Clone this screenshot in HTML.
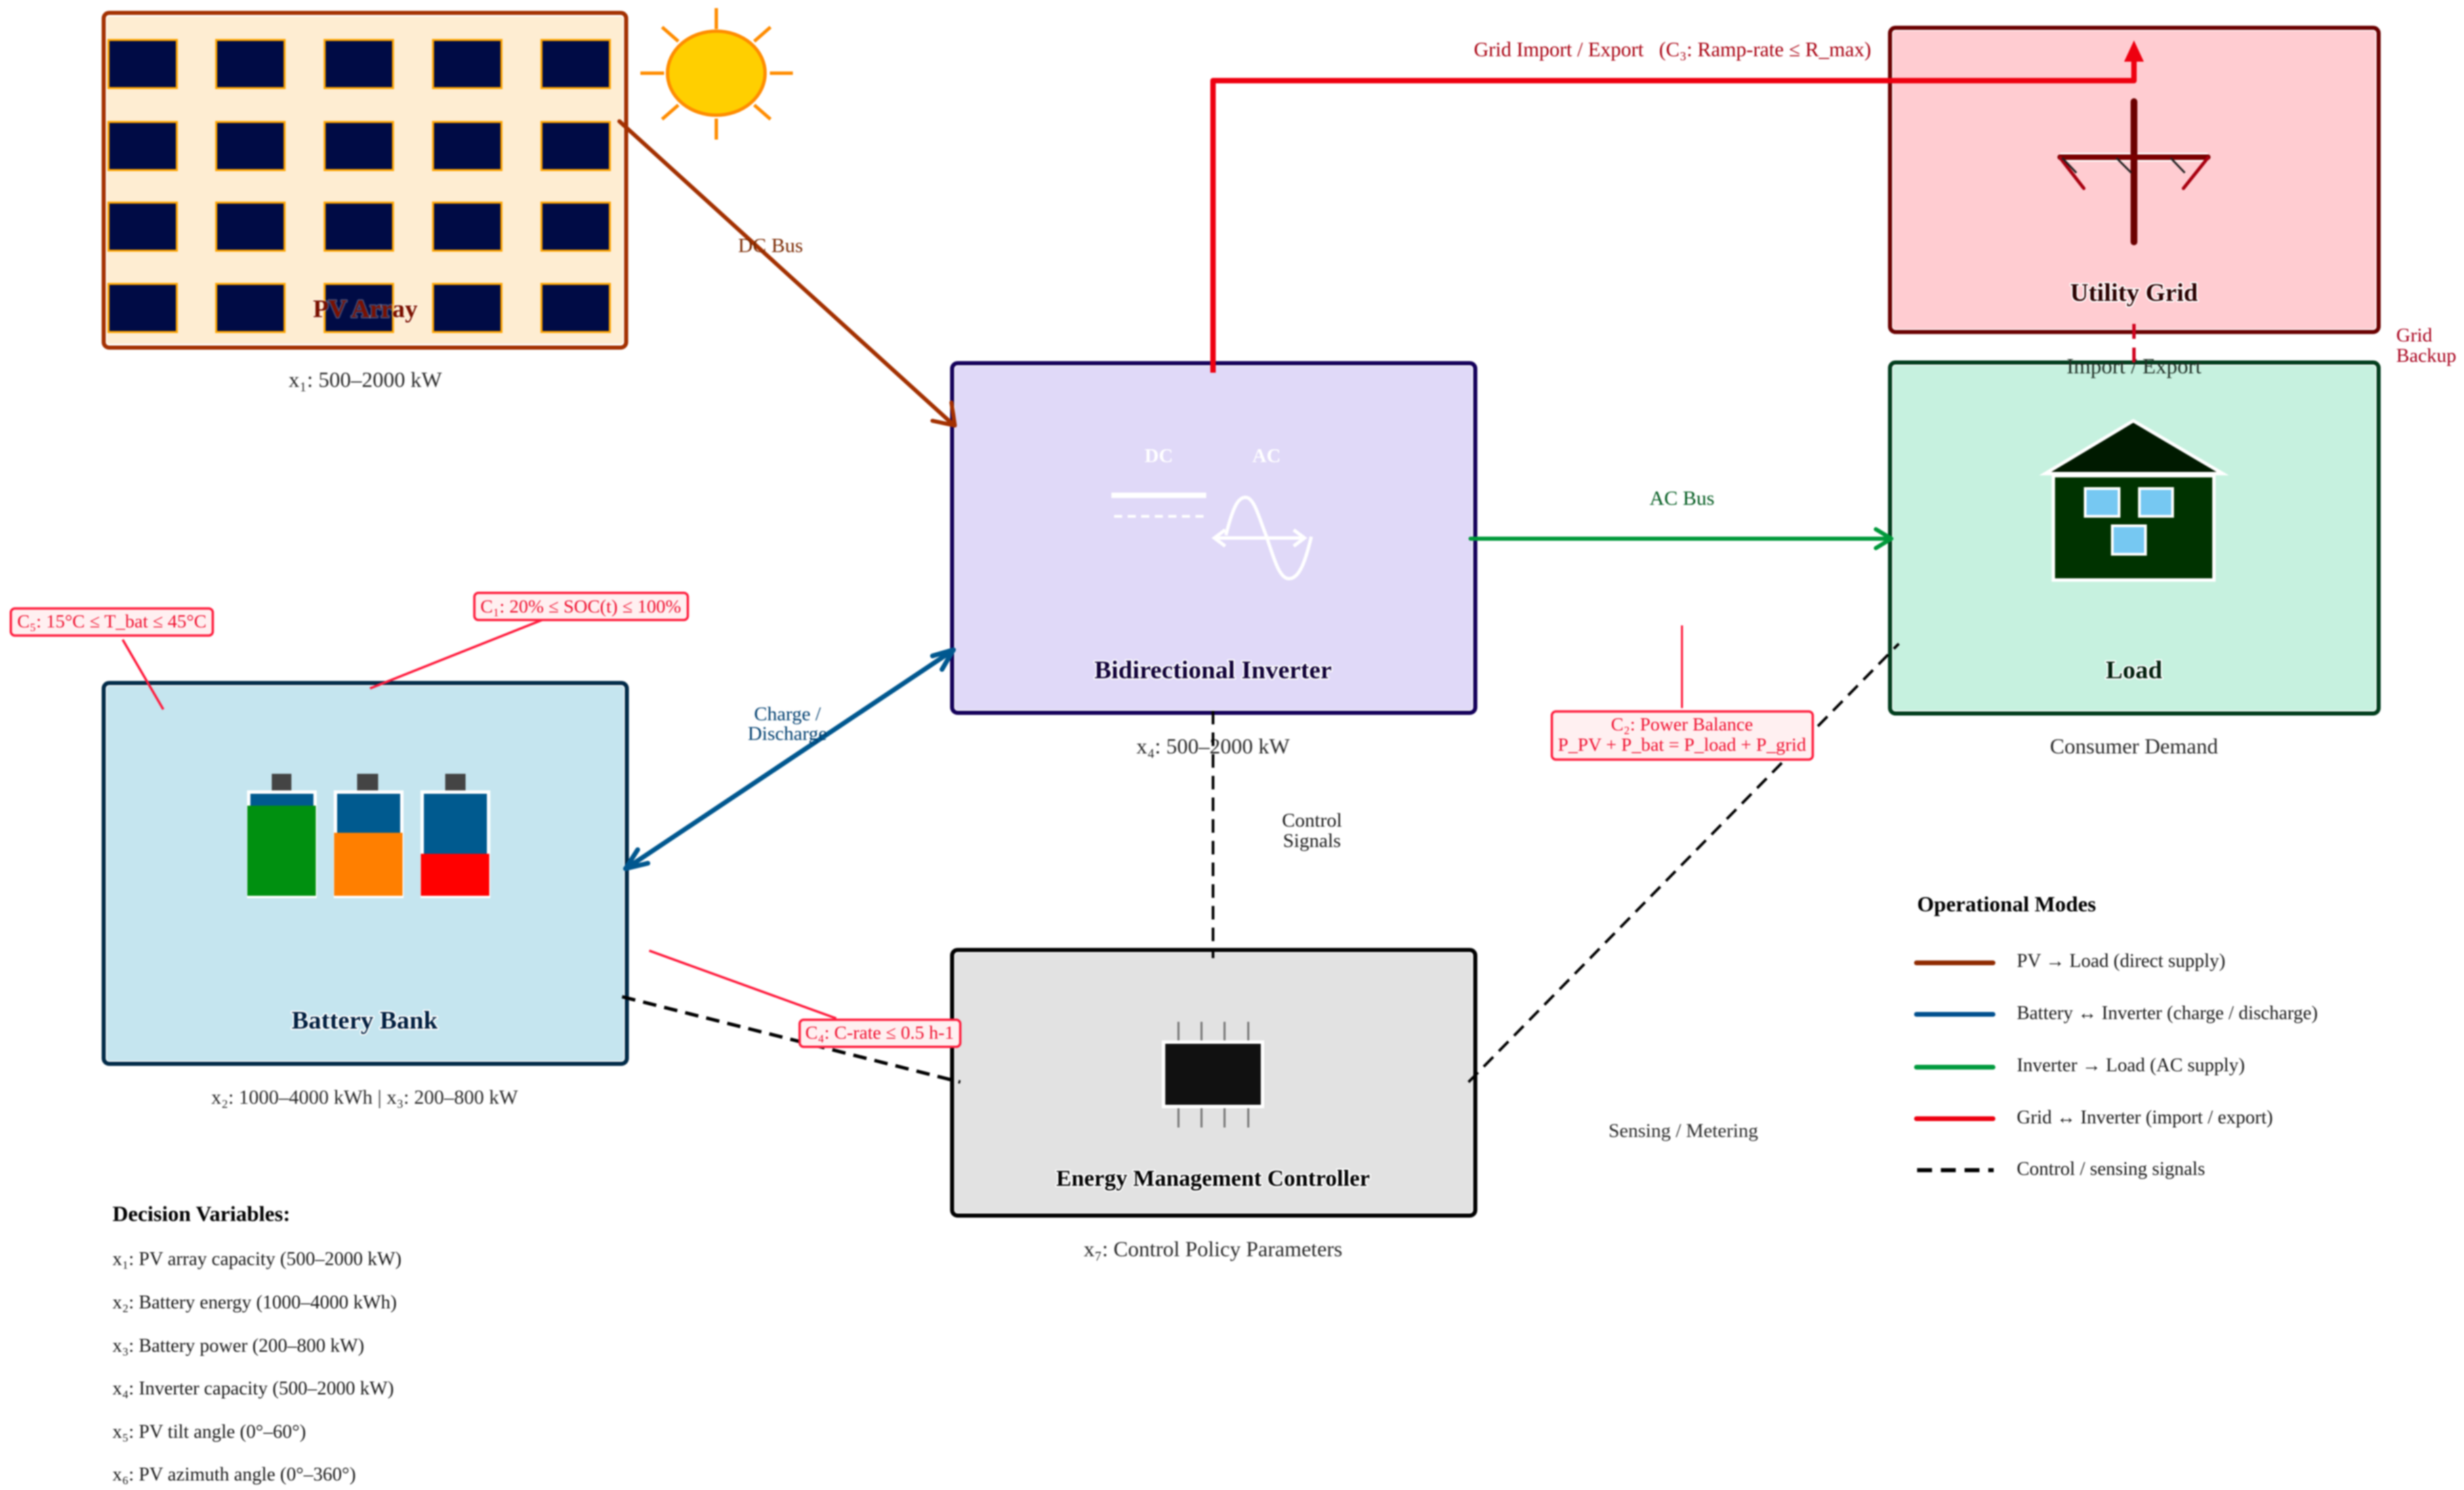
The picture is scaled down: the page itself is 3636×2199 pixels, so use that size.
<!DOCTYPE html>
<html><head><meta charset="utf-8"><style>
html,body{margin:0;padding:0;background:#fff}
svg{display:block;filter:blur(1px)}
text{font-family:"Liberation Serif","DejaVu Serif",serif}
.t{font-weight:bold;font-size:37.5px;text-anchor:middle;paint-order:stroke;stroke:#fff;stroke-width:4px;stroke-linejoin:round}
.s{font-size:32px;text-anchor:middle;fill:#2a2a2a}
.l{font-size:29px;text-anchor:middle}
.c{font-size:27.7px;text-anchor:middle;fill:#f0102f}
.m{font-size:28.2px;fill:#1a1a1a}
</style></head><body>
<svg width="3636" height="2199" viewBox="0 0 3636 2199" xmlns="http://www.w3.org/2000/svg">
<rect width="3636" height="2199" fill="#fff"/>

<!-- PV -->
<rect x="153" y="20" width="771" height="492" rx="8" fill="#feedd2" stroke="#fff" stroke-width="9"/>
<rect x="153" y="19" width="771" height="494" rx="8" fill="none" stroke="#a33000" stroke-width="6"/>
<g fill="#000b45" stroke="#ffa500" stroke-width="3">
<rect x="160" y="59" width="101" height="71"/><rect x="319" y="59" width="101" height="71"/><rect x="479" y="59" width="101" height="71"/><rect x="639" y="59" width="101" height="71"/><rect x="799" y="59" width="101" height="71"/>
<rect x="160" y="180" width="101" height="71"/><rect x="319" y="180" width="101" height="71"/><rect x="479" y="180" width="101" height="71"/><rect x="639" y="180" width="101" height="71"/><rect x="799" y="180" width="101" height="71"/>
<rect x="160" y="299" width="101" height="71"/><rect x="319" y="299" width="101" height="71"/><rect x="479" y="299" width="101" height="71"/><rect x="639" y="299" width="101" height="71"/><rect x="799" y="299" width="101" height="71"/>
<rect x="160" y="419" width="101" height="71"/><rect x="319" y="419" width="101" height="71"/><rect x="479" y="419" width="101" height="71"/><rect x="639" y="419" width="101" height="71"/><rect x="799" y="419" width="101" height="71"/>
</g>
<text class="t" x="539" y="468" fill="#7a1000" stroke-opacity="0.25">PV Array</text>
<text class="s" x="539" y="571">x₁: 500–2000 kW</text>

<!-- Sun -->
<ellipse cx="1057" cy="108" rx="72" ry="62" fill="#ffcf00" stroke="#ff8c00" stroke-width="5"/>
<g stroke="#ff8c00" stroke-width="5" fill="none">
<path d="M1057 12V43M1057 175V206M945 108H980M1136 108H1170M1001 61L977 40M1113 61L1137 40M1001 155L977 176M1113 155L1137 176"/>
</g>

<!-- Inverter -->
<rect x="1405" y="536" width="772" height="516" rx="8" fill="#e0d9f8" stroke="#fff" stroke-width="9"/>
<rect x="1405" y="536" width="772" height="516" rx="8" fill="none" stroke="#14005a" stroke-width="6"/>
<g fill="none" stroke="#fff">
<path d="M1640 731H1780" stroke-width="8"/>
<path d="M1644 762H1778" stroke-width="4" stroke-dasharray="12 8"/>
<path d="M1792 794H1925M1808 782L1792 794L1808 806M1909 782L1925 794L1909 806" stroke-width="5"/>
<path d="M1809 790C1820 745 1828 734 1838 734C1851 734 1858 765 1869 792C1880 825 1888 854 1902 854C1917 854 1926 830 1935 792" stroke-width="5"/>
</g>
<text x="1710" y="682" font-size="29" fill="#fff" font-weight="bold" text-anchor="middle">DC</text>
<text x="1869" y="682" font-size="29" fill="#fff" font-weight="bold" text-anchor="middle">AC</text>
<text class="t" x="1790" y="1001" fill="#100038">Bidirectional Inverter</text>
<text class="s" x="1790" y="1112">x₄: 500–2000 kW</text>

<!-- Grid -->
<rect x="2789" y="41" width="721" height="449" rx="8" fill="#ffccd1" stroke="#fff" stroke-width="9"/>
<rect x="2789" y="41" width="721" height="449" rx="8" fill="none" stroke="#6a0000" stroke-width="6"/>
<path d="M3040 232H3258" stroke="#fff" stroke-width="13"/>
<path d="M3149 150V357" stroke="#6b0000" stroke-width="10" stroke-linecap="round"/>
<path d="M3040 232H3258" stroke="#7a0000" stroke-width="8" stroke-linecap="round"/>
<path d="M3040 233L3075 278M3258 233L3222 278" stroke="#a80010" stroke-width="5" stroke-linecap="round"/>
<path d="M3043 233L3064 255M3123 233L3145 255M3203 233L3224 255" stroke="#222" stroke-width="3"/>
<text class="t" x="3149" y="444" fill="#2a0000">Utility Grid</text>

<!-- Load -->
<rect x="2789" y="535" width="721" height="518" rx="8" fill="#c6f1df" stroke="#fff" stroke-width="9"/>
<rect x="2789" y="535" width="721" height="518" rx="8" fill="none" stroke="#003d1c" stroke-width="6"/>
<path d="M3148 621L3280 699H3018Z" fill="#001a00" stroke="#fff" stroke-width="5"/>
<rect x="3030" y="702" width="237" height="154" fill="#003300" stroke="#fff" stroke-width="5"/>
<g fill="#76c8f2" stroke="#fff" stroke-width="4"><rect x="3077" y="721" width="50" height="41"/><rect x="3157" y="721" width="49" height="41"/><rect x="3117" y="776" width="49" height="42"/></g>
<text class="t" x="3149" y="1001" fill="#001f0c">Load</text>
<text class="s" x="3149" y="1112">Consumer Demand</text>

<!-- Battery -->
<rect x="153" y="1008" width="772" height="562" rx="8" fill="#c5e5ef" stroke="#fff" stroke-width="9"/>
<rect x="153" y="1008" width="772" height="562" rx="8" fill="none" stroke="#002a48" stroke-width="6"/>
<g fill="#444"><rect x="401" y="1142" width="29" height="26"/><rect x="527" y="1142" width="31" height="26"/><rect x="657" y="1142" width="30" height="26"/></g>
<g fill="#005a8f" stroke="#fff" stroke-width="5"><rect x="367" y="1169" width="98" height="154"/><rect x="495" y="1169" width="98" height="154"/><rect x="623" y="1169" width="98" height="154"/></g>
<rect x="365" y="1189" width="101" height="133" fill="#009010"/>
<rect x="493" y="1229" width="101" height="93" fill="#ff7f00"/>
<rect x="621" y="1260" width="101" height="62" fill="#ff0000"/>
<text class="t" x="538" y="1518" fill="#001f40">Battery Bank</text>
<text class="s" x="538" y="1629" style="font-size:29.5px">x₂: 1000–4000 kWh | x₃: 200–800 kW</text>

<!-- EMC -->
<rect x="1405" y="1402" width="772" height="392" rx="8" fill="#e2e2e2" stroke="#fff" stroke-width="9"/>
<rect x="1405" y="1402" width="772" height="392" rx="8" fill="none" stroke="#000" stroke-width="6"/>
<path d="M1739 1508V1664M1773 1508V1664M1807 1508V1664M1842 1508V1664" stroke="#777" stroke-width="3"/>
<rect x="1717" y="1538" width="146" height="95" fill="#111" stroke="#fff" stroke-width="5"/>
<text class="t" x="1790" y="1750" fill="#000" style="font-size:33.8px">Energy Management Controller</text>
<text class="s" x="1790" y="1854">x₇: Control Policy Parameters</text>

<!-- Connectors -->
<g fill="none" stroke-linejoin="round" stroke-linecap="round">
<path d="M914 179L1407 627M1376 621L1409 628L1404 594" stroke="#a33000" stroke-width="6"/>
<path d="M925 1281L1406 960M1376 968L1407 959L1390 988M956 1274L923 1282L941 1254" stroke="#00578f" stroke-width="7"/>
<path d="M2170 795H2790M2768 781L2791 795L2768 809" stroke="#00993a" stroke-width="6"/>
<path d="M1790 550V119H3149V70" stroke="#ee0010" stroke-width="8" stroke-linecap="butt"/>
</g>
<path d="M3149 62L3162 90H3136Z" fill="#ee0010" stroke="#ee0010" stroke-width="2"/>
<g fill="none" stroke="#000" stroke-width="4" stroke-dasharray="20 12">
<path d="M1790 1049V1414"/>
<path d="M918 1471L1417 1597" stroke-width="5"/>
<path d="M2167 1597L2802 950"/>
</g>
<path d="M3149 478V547" stroke="#d0001c" stroke-width="5" stroke-dasharray="22 13" fill="none"/>

<!-- Constraint lines -->
<g stroke="#ff1a3c" stroke-width="3.5" fill="none">
<path d="M181 944L241 1047"/>
<path d="M800 915L546 1016"/>
<path d="M2482 923V1045" stroke-width="3"/>
<path d="M958 1403L1234 1503"/>
</g>

<!-- Callouts -->
<g fill="#fff0f1" stroke="#ff1f3f" stroke-width="3.5">
<rect x="16" y="898" width="298" height="40" rx="6"/>
<rect x="700" y="875" width="315" height="40" rx="6"/>
<rect x="2290" y="1050" width="385" height="71" rx="6"/>
<rect x="1180" y="1505" width="237" height="40" rx="6"/>
</g>
<text class="c" x="165" y="926">C₅: 15°C ≤ T_bat ≤ 45°C</text>
<text class="c" x="857" y="904">C₁: 20% ≤ SOC(t) ≤ 100%</text>
<text class="c" x="2482" y="1078">C₂: Power Balance</text>
<text class="c" x="2482" y="1108">P_PV + P_bat = P_load + P_grid</text>
<text class="c" x="1298" y="1533">C₄: C-rate ≤ 0.5 h-1</text>

<!-- Connector labels -->
<text class="l" x="1137" y="372" fill="#7a2800" style="font-size:30px">DC Bus</text>
<text class="l" x="1162" y="1063" fill="#003f70">Charge /</text>
<text class="l" x="1162" y="1092" fill="#003f70">Discharge</text>
<text class="l" x="2482" y="745" fill="#005a1e" style="font-size:30px">AC Bus</text>
<text class="l" x="2468" y="83" fill="#a80010" style="font-size:30.2px" xml:space="preserve">Grid Import / Export   (C₃: Ramp-rate ≤ R_max)</text>
<text class="l" x="3149" y="551" fill="#1f2f25" style="font-size:32px">Import / Export</text>
<text x="3536" y="504" font-size="29" fill="#a8001c">Grid</text>
<text x="3536" y="534" font-size="29" fill="#a8001c">Backup</text>
<text class="l" x="1936" y="1220" fill="#1a1a1a">Control</text>
<text class="l" x="1936" y="1250" fill="#1a1a1a">Signals</text>
<text class="l" x="2484" y="1678" fill="#2a2a2a">Sensing / Metering</text>

<!-- Legend -->
<text x="2829" y="1345" font-size="32" font-weight="bold" fill="#000">Operational Modes</text>
<g stroke-width="7" stroke-linecap="round" fill="none">
<path d="M2828 1421H2941" stroke="#8f2a00"/>
<path d="M2828 1497H2941" stroke="#00508f"/>
<path d="M2828 1575H2941" stroke="#009a3e"/>
<path d="M2828 1651H2941" stroke="#ee0010"/>
<path d="M2829 1727H2942" stroke="#000" stroke-width="6" stroke-dasharray="22 13" stroke-linecap="butt"/>
</g>
<text class="m" x="2976" y="1427">PV → Load (direct supply)</text>
<text class="m" x="2976" y="1504">Battery ↔ Inverter (charge / discharge)</text>
<text class="m" x="2976" y="1581">Inverter → Load (AC supply)</text>
<text class="m" x="2976" y="1658">Grid ↔ Inverter (import / export)</text>
<text class="m" x="2976" y="1734">Control / sensing signals</text>

<!-- Decision variables -->
<text x="166" y="1802" font-size="32" font-weight="bold" fill="#000">Decision Variables:</text>
<text class="m" x="166" y="1867">x₁: PV array capacity (500–2000 kW)</text>
<text class="m" x="166" y="1931">x₂: Battery energy (1000–4000 kWh)</text>
<text class="m" x="166" y="1995">x₃: Battery power (200–800 kW)</text>
<text class="m" x="166" y="2058">x₄: Inverter capacity (500–2000 kW)</text>
<text class="m" x="166" y="2122">x₅: PV tilt angle (0°–60°)</text>
<text class="m" x="166" y="2185">x₆: PV azimuth angle (0°–360°)</text>
</svg>
</body></html>
